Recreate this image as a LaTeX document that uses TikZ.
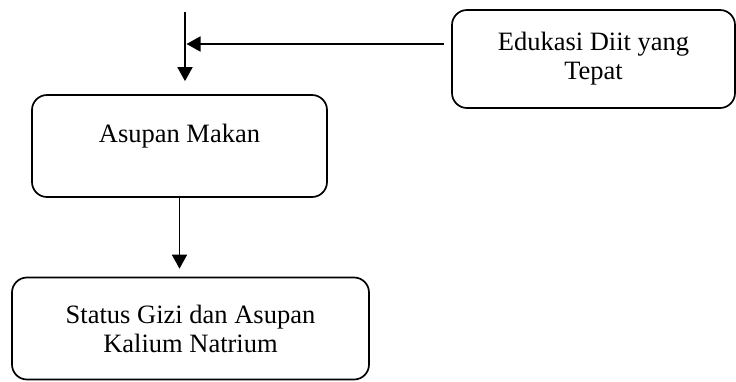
\documentclass[tikz,border=0pt]{standalone}
\usepackage{fontspec}
\setmainfont{Liberation Serif}
\usetikzlibrary{arrows.meta,calc}
\begin{document}
\begin{tikzpicture}[x=1pt,y=-1pt,
  box/.style={draw,line width=1.7pt,rounded corners=15pt,inner sep=0pt},
  arr/.style={line width=1.7pt,-{Triangle[length=14pt,width=15pt]}},
  txt/.style={font=\fontsize{26.5}{29}\selectfont,align=center}]
\useasboundingbox (0,0) rectangle (736,381);
\node[box,minimum width=283pt,minimum height=98pt,txt] (edu) at (593.5,59) {Edukasi Diit yang\\Tepat};
\node[box,minimum width=295pt,minimum height=102pt] (asupan) at (179.5,146) {};
\node[txt,anchor=base] (asupantext) at (179.5,142) {Asupan Makan};
\node[box,minimum width=357pt,minimum height=102pt,txt] (status) at (190.5,328.5) {Status Gizi dan Asupan\\Kalium Natrium};
\coordinate (top) at (185,12);
\coordinate (join) at (185,44);
\coordinate (hstart) at (444,44);
\draw[arr] (top) -- ($(asupan.north -| top)+(0,-13)$);
\draw[arr] (hstart) -- ([xshift=1.5pt]join);
\draw[arr] (asupan.south) -- ($(asupan.south |- status.north)+(0,-8)$);
\end{tikzpicture}
\end{document}
